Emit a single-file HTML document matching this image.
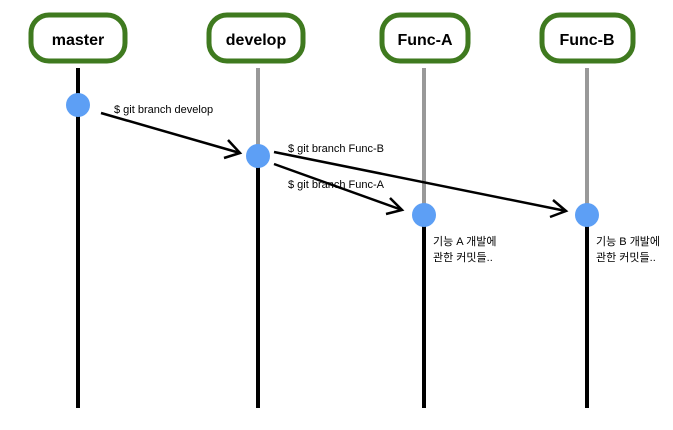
<!DOCTYPE html>
<html><head><meta charset="utf-8"><style>
body{margin:0;background:#fff;}
svg text{font-family:"Liberation Sans","Noto Sans CJK KR",sans-serif;}
</style></head><body>
<svg width="673" height="425" viewBox="0 0 673 425" xmlns="http://www.w3.org/2000/svg">
<g fill="none" stroke="#3f7a1f" stroke-width="5">
<rect x="31" y="15" width="94" height="46" rx="18"/>
<rect x="209" y="15" width="94" height="46" rx="18"/>
<rect x="382" y="15" width="86" height="46" rx="18"/>
<rect x="542" y="15" width="91" height="46" rx="18"/>
</g>
<g font-size="16" font-weight="bold" text-anchor="middle" fill="#000">
<text x="78" y="45">master</text>
<text x="256" y="45">develop</text>
<text x="425" y="45">Func-A</text>
<text x="587" y="45">Func-B</text>
</g>
<g stroke-width="4">
<line x1="78" y1="68" x2="78" y2="408" stroke="#000"/>
<line x1="258" y1="68" x2="258" y2="156" stroke="#999"/>
<line x1="258" y1="156" x2="258" y2="408" stroke="#000"/>
<line x1="424" y1="68" x2="424" y2="215" stroke="#999"/>
<line x1="424" y1="215" x2="424" y2="408" stroke="#000"/>
<line x1="587" y1="68" x2="587" y2="215" stroke="#999"/>
<line x1="587" y1="215" x2="587" y2="408" stroke="#000"/>
</g>
<g stroke="#000" stroke-width="2.5" fill="none">
<line x1="101" y1="113" x2="240" y2="153"/>
<polyline points="228,140 240,153 224,158"/>
<line x1="274" y1="152" x2="566" y2="211"/>
<polyline points="553,200 566,211 550,217"/>
<line x1="274" y1="164" x2="402" y2="210"/>
<polyline points="390,198 402,210 386,214"/>
</g>
<g fill="#5d9ff5">
<circle cx="78" cy="105" r="12"/>
<circle cx="258" cy="156" r="12"/>
<circle cx="424" cy="215" r="12"/>
<circle cx="587" cy="215" r="12"/>
</g>
<g font-size="11" fill="#000">
<text x="114" y="113">$ git branch develop</text>
<text x="288" y="152">$ git branch Func-B</text>
<text x="288" y="188">$ git branch Func-A</text>
<text x="433" y="245">기능 A 개발에</text>
<text x="433" y="261">관한 커밋들..</text>
<text x="596" y="245">기능 B 개발에</text>
<text x="596" y="261">관한 커밋들..</text>
</g>
</svg>
</body></html>
